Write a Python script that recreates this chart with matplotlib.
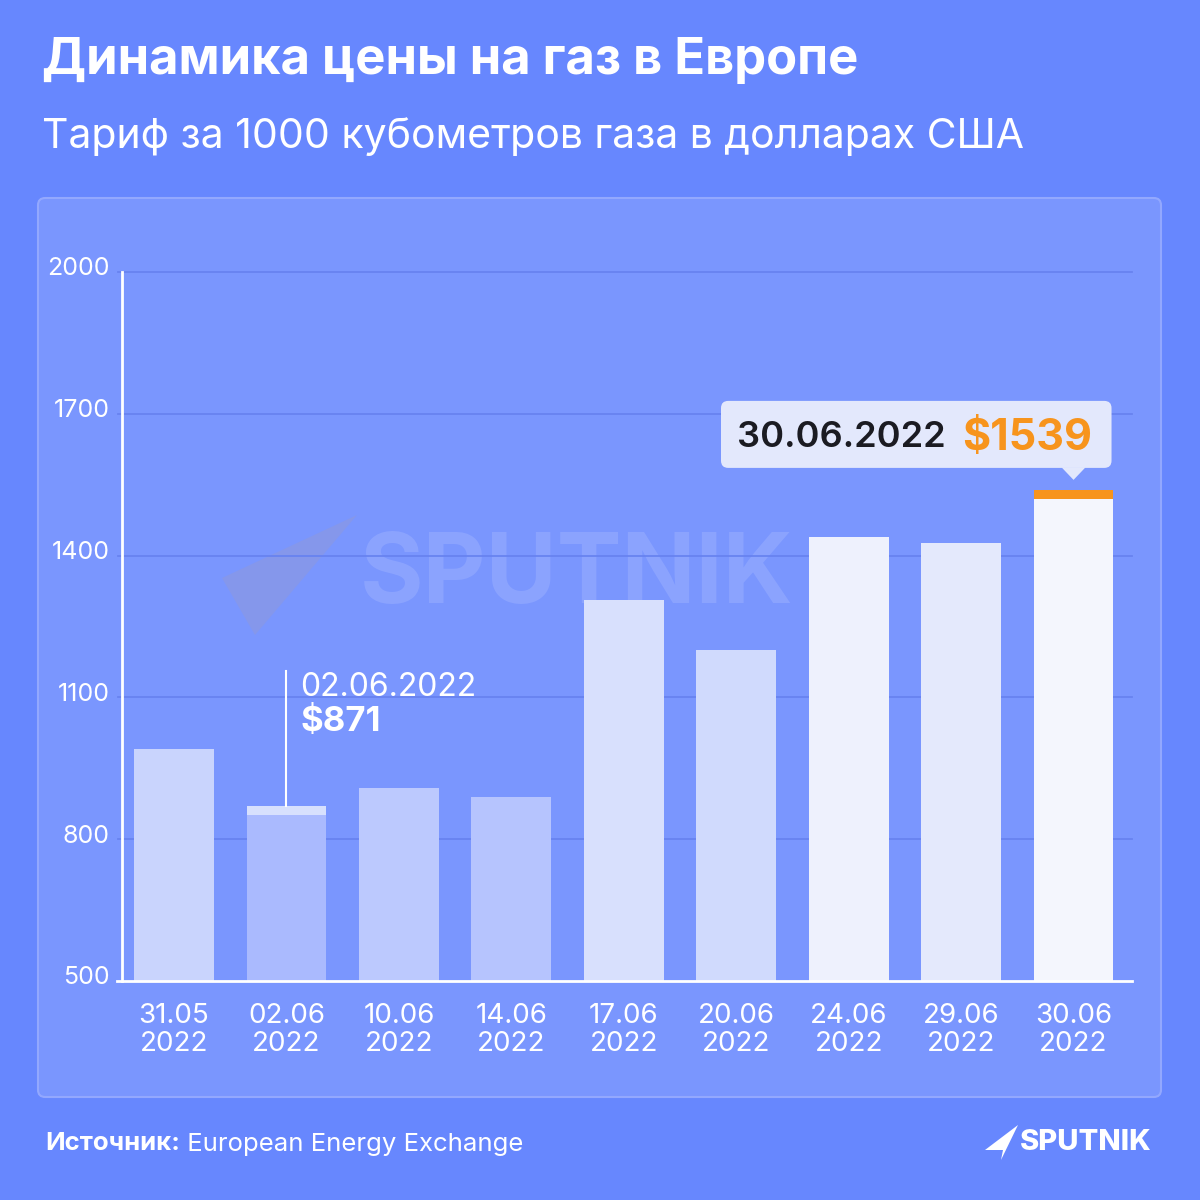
import matplotlib
matplotlib.use("Agg")
import matplotlib.pyplot as plt
from matplotlib.patches import FancyBboxPatch, Polygon
import matplotlib.transforms as mtransforms

# ---- data ----
dates = ["31.05", "02.06", "10.06", "14.06", "17.06", "20.06", "24.06", "29.06", "30.06"]
year = "2022"
prices = [990, 871, 908, 889, 1306, 1200, 1439, 1427, 1539]
bar_colors = ["#C9D4FD", "#AABAFE", "#BCC9FE", "#B6C4FE", "#D8E0FD",
              "#D0DAFD", "#EEF1FD", "#E4E9FC", "#F4F6FD"]
yticks = [500, 800, 1100, 1400, 1700, 2000]

title = "Динамика цены на газ в Европе"
subtitle = "Тариф за 1000 кубометров газа в долларах США"
source_bold = "Источник:"
source_text = " European Energy Exchange"

FONT = ["Inter", "DejaVu Sans"]
plt.rcParams["font.family"] = FONT

W = H = 1200
fig = plt.figure(figsize=(12, 12), dpi=100)
fig.patch.set_facecolor("#6787FE")

def fx(px):
    return px / W

def fy(py):
    return 1 - py / H

# panel
panel = FancyBboxPatch((fx(38), fy(1097)), fx(1161 - 38), (1097 - 198) / H,
                       boxstyle="round,pad=0,rounding_size=0.006",
                       transform=fig.transFigure, facecolor="#7A96FE",
                       edgecolor="#93A8FE", linewidth=1.5, zorder=-2)
fig.patches.append(panel)

# titles
fig.text(fx(42), fy(60), title, fontsize=36.5, fontweight="bold", color="white",
         va="center", ha="left")
fig.text(fx(42), fy(137), subtitle, fontsize=29.5, color="white",
         va="center", ha="left")

# watermark (behind bars)
fig.text(fx(360), fy(578), "SPUTNIK", fontsize=70, fontweight="bold",
         color="white", alpha=0.13, va="center", ha="left", zorder=-1)
wm = Polygon([[fx(357), fy(515)], [fx(222), fy(578)], [fx(255), fy(635)]],
             closed=True, transform=fig.transFigure, facecolor="#9A9AC8",
             alpha=0.35, edgecolor="none", zorder=-1)
fig.patches.append(wm)

# axes
ax = fig.add_axes([fx(122), fy(981), fx(1132 - 122), (981 - 272) / H])
ax.set_zorder(1)
ax.set_facecolor("none")
x = list(range(len(dates)))
ax.set_xlim(-0.463, 8.52)
ax.set_ylim(500, 2000)

ax.bar(x, prices, width=0.71, color=bar_colors, zorder=3)

# caps on highlighted bars
cap = 20
ax.bar([1], [cap], bottom=[prices[1] - cap], width=0.71, color="#D7E0FD", zorder=4)
ax.bar([8], [cap], bottom=[prices[8] - cap], width=0.71, color="#F7941D", zorder=4)

ax.set_yticks(yticks)
ax.set_yticklabels([str(t) for t in yticks])
ax.set_xticks(x)
ax.set_xticklabels([f"{d}\n{year}" for d in dates], linespacing=1.1)
ax.tick_params(axis="both", length=0, colors="white")
ax.tick_params(axis="x", labelsize=20, pad=16)
ax.tick_params(axis="y", labelsize=18, pad=9)
for lab in ax.get_yticklabels():
    lab.set_transform(lab.get_transform() +
                      mtransforms.ScaledTranslation(0, 4 / 72, fig.dpi_scale_trans))
# grid lines (extend slightly left of the axis as in the original)
for t in yticks[1:]:
    ax.axhline(t, xmin=-0.004, xmax=1, color="#6883F0", linewidth=1.3,
               zorder=1, clip_on=False)
ax.axhline(500, xmin=-0.005, xmax=1, color="white", linewidth=2,
           zorder=5, clip_on=False)
for s in ["top", "right", "bottom"]:
    ax.spines[s].set_visible(False)
ax.spines["left"].set_color("white")
ax.spines["left"].set_linewidth(2)
ax.spines["left"].set_zorder(5)

# annotation for 02.06
fig.canvas.draw()
to_fig = fig.transFigure.inverted()

def data_to_fig(xd, yd):
    return to_fig.transform(ax.transData.transform((xd, yd)))

bx, by = data_to_fig(1, prices[1])
ax.plot([1, 1], [prices[1], prices[1] + 285], color="white", lw=1.5, zorder=6)
fig.text(bx + fx(14), by + 134 / H, "02.06.2022", fontsize=23, color="white",
         ha="left", va="top", zorder=5)
fig.text(bx + fx(14), by + 100 / H, f"${prices[1]}", fontsize=25,
         fontweight="bold", color="white", ha="left", va="top", zorder=5)

# callout for 30.06
tx, ty = data_to_fig(8, prices[8])
tip_y = ty + 10 / H
box_bottom = tip_y + 12 / H
box_h = 67 / H
box_left = fx(721)
box_right = tx + fx(38)
callout = FancyBboxPatch((box_left, box_bottom), box_right - box_left, box_h,
                         boxstyle="round,pad=0,rounding_size=0.006",
                         transform=fig.transFigure, facecolor="#E3E8FC",
                         edgecolor="none", zorder=10)
fig.patches.append(callout)
tri = Polygon([[tx - fx(12), box_bottom + 0.0005], [tx + fx(12), box_bottom + 0.0005],
               [tx, tip_y]], closed=True, transform=fig.transFigure,
              facecolor="#E3E8FC", edgecolor="none", zorder=10)
fig.patches.append(tri)
cy = box_bottom + box_h / 2
fig.text(fx(737), cy, "30.06.2022", fontsize=26, fontweight="semibold",
         color="#1B1B22", ha="left", va="center_baseline", zorder=11)
fig.text(fx(962), cy, f"${prices[8]}", fontsize=31, fontweight="bold",
         color="#F7941D", ha="left", va="center_baseline", zorder=11)

# footer
t = fig.text(fx(45), fy(1144), source_bold, fontsize=18.5, fontweight="bold",
             color="white", ha="left", va="center")
fig.canvas.draw()
bb = t.get_window_extent()
fig.text(bb.x1 / W, fy(1144), source_text, fontsize=18.5, color="white",
         ha="left", va="center")

logo = Polygon([[fx(1018), fy(1125)], [fx(985), fy(1150)], [fx(1003), fy(1150)],
                [fx(1001), fy(1160)]], closed=True, transform=fig.transFigure,
               facecolor="white", edgecolor="none")
fig.patches.append(logo)
fig.text(fx(1020), fy(1143), "SPUTNIK", fontsize=21, fontweight="heavy",
         color="white", ha="left", va="center")

fig.savefig("out.png", dpi=100, facecolor=fig.get_facecolor())
